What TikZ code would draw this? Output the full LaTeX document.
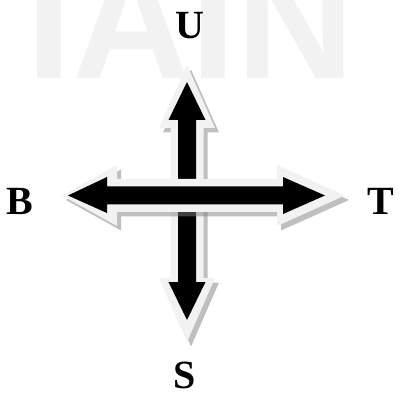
\documentclass[tikz,border=0pt]{standalone}
\usepackage{fontspec}
\setmainfont{Liberation Serif}
\setsansfont{Liberation Sans}
\usepackage{tikz}
\definecolor{watermark}{HTML}{F2F2F2}
\definecolor{rim}{HTML}{F2F2F2}
\definecolor{shade}{HTML}{808080}

\begin{document}
\begin{tikzpicture}[x=1pt,y=-1pt,
  label/.style={font=\fontsize{40}{40}\selectfont\bfseries,inner sep=0pt},
  shadow/.style={fill=shade,opacity=0.5},
  rimfill/.style={fill=rim},
  corefill/.style={fill=black}]
  \useasboundingbox (0,0) rectangle (399,398);
  \clip (0,0) rectangle (399,398);
  % faint watermark behind everything
  \node[anchor=base west,inner sep=0pt,watermark,
        font=\sffamily\bfseries\fontsize{164}{164}\selectfont] (mark) at (26.5,79) {IAIN};
  % vertical arrow
  \fill[shadow,shift={(4,4.5)}] (187,65) -- (215,128) -- (203.5,128) -- (203.5,278) -- (215,278)
    -- (187,342) -- (159,278) -- (170.5,278) -- (170.5,128) -- (159,128) -- cycle;
  \fill[rimfill] (187,65) -- (215,128) -- (203.5,128) -- (203.5,278) -- (215,278)
    -- (187,342) -- (159,278) -- (170.5,278) -- (170.5,128) -- (159,128) -- cycle;
  \fill[corefill] (187,82) -- (205.5,120) -- (196,120) -- (196,282) -- (205.5,282)
    -- (187,320) -- (168.5,282) -- (178,282) -- (178,120) -- (168.5,120) -- cycle;
  % horizontal arrow
  \fill[shadow,shift={(4,4.5)}] (62,195.5) -- (117,165) -- (117,179) -- (277,179) -- (277,165)
    -- (345,195.5) -- (277,226) -- (277,212) -- (117,212) -- (117,226) -- cycle;
  \fill[rimfill] (62,195.5) -- (117,165) -- (117,179) -- (277,179) -- (277,165)
    -- (345,195.5) -- (277,226) -- (277,212) -- (117,212) -- (117,226) -- cycle;
  \fill[corefill] (68,195.5) -- (107,177) -- (107,186.5) -- (283,186.5) -- (283,177)
    -- (325,195.5) -- (283,214) -- (283,204.5) -- (107,204.5) -- (107,213) -- cycle;
  % direction letters
  \node[label] (up) at (190,25.5) {U};
  \node[label] (left) at (20,201.5) {B};
  \node[label] (right) at (381,201) {T};
  \node[label] (down) at (185,375) {S};
\end{tikzpicture}
\end{document}
